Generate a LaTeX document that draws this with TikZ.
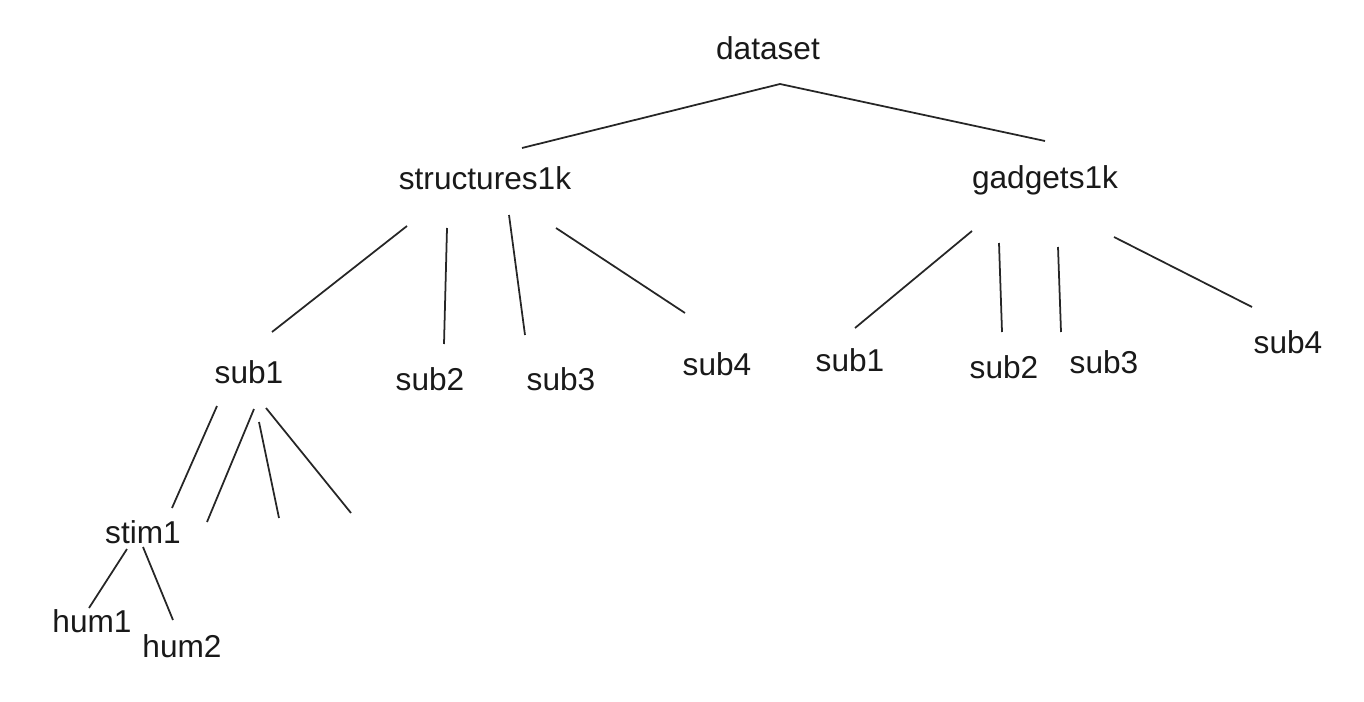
\documentclass[tikz,border=0pt]{standalone}
\usepackage{fontspec}
\setmainfont{Liberation Sans}
\usepackage{tikz}
\usetikzlibrary{positioning, calc}

\tikzset{
  word/.style={anchor=base, inner sep=0pt, text=black!90,
    font=\fontsize{18}{20}\selectfont},
  edge/.style={draw=black!85, line width=1pt}
}

\begin{document}
\begin{tikzpicture}[x=0.02cm, y=-0.02cm]
        \useasboundingbox (0,0) rectangle (1364,702);

        % Nodes
        \node [word] (dataset) at (768, 60)  {dataset};
        \node [word] (s1k)     at (485, 190) {structures1k};
        \node [word] (g1k)     at (1045, 189) {gadgets1k};

        \node [word] (ssub1) at (249, 383) {sub1};
        \node [word] (ssub2) at (430, 390) {sub2};
        \node [word] (ssub3) at (561, 390) {sub3};
        \node [word] (ssub4) at (717, 375) {sub4};

        \node [word] (gsub1) at (850, 371)  {sub1};
        \node [word] (gsub2) at (1004, 378) {sub2};
        \node [word] (gsub3) at (1104, 373) {sub3};
        \node [word] (gsub4) at (1288, 353) {sub4};

        \node [word] (stim1) at (143, 543) {stim1};
        \node [word] (hum1)  at (92, 632)  {hum1};
        \node [word] (hum2)  at (182, 657) {hum2};

        \coordinate (leafA) at (207, 522);
        \coordinate (leafB) at (279, 518);
        \coordinate (leafC) at (351, 513);

        % Edges
        \draw[edge] ([shift={(12,24)}]dataset.base) -- ([shift={(37,-42)}]s1k.base);
        \draw[edge] ([shift={(12,24)}]dataset.base) -- ([shift={(0,-48)}]g1k.base);

        \draw[edge] ([shift={(-78,36)}]s1k.base) -- ([shift={(23,-51)}]ssub1.base);
        \draw[edge] ([shift={(-38,38)}]s1k.base) -- ([shift={(14,-46)}]ssub2.base);
        \draw[edge] ([shift={(24,25)}]s1k.base)  -- ([shift={(-36,-55)}]ssub3.base);
        \draw[edge] ([shift={(71,38)}]s1k.base)  -- ([shift={(-32,-62)}]ssub4.base);

        \draw[edge] ([shift={(-73,42)}]g1k.base) -- ([shift={(5,-43)}]gsub1.base);
        \draw[edge] ([shift={(-46,54)}]g1k.base) -- ([shift={(-2,-46)}]gsub2.base);
        \draw[edge] ([shift={(13,58)}]g1k.base)  -- ([shift={(-43,-41)}]gsub3.base);
        \draw[edge] ([shift={(69,48)}]g1k.base)  -- ([shift={(-36,-46)}]gsub4.base);

        \draw[edge] ([shift={(-32,23)}]ssub1.base) -- ([shift={(29,-35)}]stim1.base);
        \draw[edge] ([shift={(5,26)}]ssub1.base)   -- (leafA);
        \draw[edge] ([shift={(10,39)}]ssub1.base)  -- (leafB);
        \draw[edge] ([shift={(17,25)}]ssub1.base)  -- (leafC);

        \draw[edge] ([shift={(-16,6)}]stim1.base) -- ([shift={(-3,-24)}]hum1.base);
        \draw[edge] ([shift={(0,4)}]stim1.base)   -- ([shift={(-9,-37)}]hum2.base);

\end{tikzpicture}
\end{document}
